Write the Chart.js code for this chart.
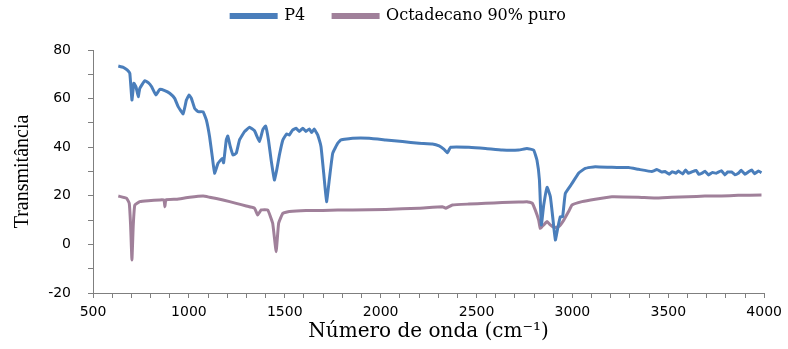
<!DOCTYPE html>
<html>
<head>
<meta charset="utf-8">
<script src="https://cdn.jsdelivr.net/npm/chart.js@4"></script>
<style>
  html, body { margin: 0; padding: 0; background: #fff; }
  #wrap { width: 788px; height: 349px; }
</style>
</head>
<body>
<div id="wrap"><canvas id="ftirChart" width="788" height="349"></canvas></div>
<script>
// P4 spectrum (wavenumber cm-1 / transmittance)
const waveP4 = [632, 658, 678, 692, 703, 713, 724, 736, 744, 770, 788, 805, 828, 848, 874, 900, 926, 944, 970, 987, 1001, 1013, 1030, 1048, 1074, 1091, 1108, 1122, 1134, 1152, 1174, 1181, 1195, 1203, 1216, 1230, 1247, 1264, 1290, 1316, 1342, 1368, 1385, 1400, 1415, 1429, 1446, 1458, 1472,
  1490, 1510, 1524, 1540, 1559, 1575, 1594, 1610, 1628, 1640, 1654, 1665, 1672, 1689, 1703, 1718, 1732, 1750, 1776, 1793, 1854, 1940, 2027, 2114, 2200, 2270, 2305, 2331, 2348, 2365, 2460, 2547, 2634, 2720, 2763, 2798, 2815, 2828, 2838, 2850, 2868, 2885, 2899, 2911, 2925, 2937, 2949, 2963, 2998, 3032, 3067, 3119, 3206, 3292, 3344,
  3414, 3440, 3465, 3483, 3505, 3520, 3540, 3552, 3575, 3590, 3605, 3621, 3645, 3660, 3675, 3691, 3710, 3730, 3750, 3777, 3795, 3810, 3830, 3847, 3865, 3880, 3900, 3917, 3935, 3950, 3970, 3986];
const transP4 = [73.4, 72.9, 71.8, 70.4, 59.4, 66.3, 64.9, 60.8, 64.2, 67.4, 66.6, 65, 61.5, 63.8, 63.3, 62.2, 60.1, 56.7, 53.7, 59.4, 61.5, 60.1, 56, 54.6, 54.6, 51.2, 44.3, 36.1, 29.3, 33.4, 35.4, 33.6, 43, 44.6, 40.2, 36.8, 37.5, 43, 46.4, 48.2, 46.8, 42.3, 47.1, 48.7, 43, 34.7, 26.5, 30.6, 36.8,
  43, 45.5, 45, 47, 47.8, 46.5, 47.8, 46.5, 47.5, 46, 47.5, 46, 45, 40.2, 29.3, 17.6, 26.5, 37.5, 41.6, 43, 43.7, 43.7, 43, 42.3, 41.6, 41.3, 40.5, 39.1, 37.7, 40, 40, 39.5, 38.8, 38.8, 39.5, 38.8, 34.7, 26.5, 8, 16, 23.5, 19.6, 10, 1.8, 7.3, 11.4, 11.4, 21, 25.1, 29.3, 31.3, 32, 31.7, 31.6, 30.9,
  30, 30.8, 29.8, 30, 28.9, 29.9, 29.3, 30.2, 29, 30.6, 29.3, 29.8, 30.4, 28.8, 29.3, 30.1, 28.6, 29.6, 29.3, 30.3, 28.6, 29.8, 29.8, 28.7, 29.3, 30.5, 28.9, 29.8, 30.6, 29.1, 30.2, 29.5];

// Octadecano 90% puro spectrum
const waveOct = [632, 675, 689, 696, 703, 710, 718, 744, 788, 848, 870, 875, 880, 935, 1004, 1074, 1108, 1178, 1247, 1299, 1342, 1359, 1377, 1411, 1437, 1455, 1468, 1490, 1524, 1611, 1698, 1776, 1854, 2027, 2200, 2322, 2340, 2374, 2460, 2547, 2634, 2720, 2763, 2790, 2806, 2824, 2832, 2850, 2868, 2885, 2903, 2929, 2955, 2980, 2998, 3050, 3119, 3206, 3344, 3431, 3518, 3604, 3691, 3777, 3864, 3986];
const transOct = [19.9, 19, 16.9, 8, -6.4, 8, 16.2, 17.6, 18, 18.3, 18.3, 15.5, 18.3, 18.6, 19.4, 19.9, 19.4, 18.3, 16.9, 15.8, 14.9, 12.1, 14.2, 14.2, 8.7, -3, 8.7, 12.8, 13.5, 13.9, 13.9, 14.2, 14.2, 14.4, 14.9, 15.5, 14.9, 16.2, 16.6, 16.9, 17.2, 17.4, 17.6, 17, 14.2, 10, 6.6, 8, 9.4, 8, 7, 7.3, 10, 13.5, 16.2, 17.6, 18.6, 19.6, 19.4, 19.1, 19.4, 19.6, 19.9, 19.9, 20.2, 20.3];

const xTicksMajor = [500, 1000, 1500, 2000, 2500, 3000, 3500, 4000];
const yTicksMajor = [-20, 0, 20, 40, 60, 80];

const blue = '#4a7ebb';
const mauve = '#a0809a';
const axisGray = '#7f7f7f';

function toPoints(xs, ys) {
  return xs.map((x, i) => ({ x: x, y: ys[i] }));
}

// legend sits higher than chart.js would put it: fix its box height
const legendHeight = {
  id: 'legendHeight',
  beforeInit(chart) {
    const fit = chart.legend.fit;
    chart.legend.fit = function () {
      fit.bind(chart.legend)();
      this.height = 70;
    };
  }
};

const ctx = document.getElementById('ftirChart').getContext('2d');
const ftirChart = new Chart(ctx, {
  type: 'line',
  data: {
    datasets: [
      {
        label: 'P4',
        data: toPoints(waveP4, transP4),
        borderColor: blue,
        backgroundColor: blue,
        borderWidth: 3,
        pointRadius: 0,
        tension: 0.1
      },
      {
        label: 'Octadecano 90% puro',
        data: toPoints(waveOct, transOct),
        borderColor: mauve,
        backgroundColor: mauve,
        borderWidth: 3,
        pointRadius: 0,
        tension: 0.1
      }
    ]
  },
  plugins: [legendHeight],
  options: {
    responsive: false,
    animation: false,
    layout: { padding: { left: 9, right: 0, top: -20, bottom: 0 } },
    plugins: {
      tooltip: { enabled: false },
      legend: {
        position: 'top',
        labels: {
          color: '#000',
          font: { family: 'DejaVu Serif', size: 16 },
          boxWidth: 45,
          boxHeight: 3,
          padding: 28
        }
      }
    },
    scales: {
      x: {
        type: 'linear',
        min: 500,
        max: 4000,
        afterFit: s => { s.height = 56; },
        border: { color: axisGray, width: 1 },
        grid: { drawOnChartArea: false, tickLength: 5, color: axisGray },
        ticks: {
          stepSize: 100,
          autoSkip: false,
          maxRotation: 0,
          color: '#000',
          padding: 6,
          font: { family: 'DejaVu Sans', size: 14 },
          callback: v => xTicksMajor.includes(v) ? String(v) : ''
        },
        title: {
          display: true,
          text: 'Número de onda (cm⁻¹)',
          color: '#000',
          font: { family: 'DejaVu Serif', size: 20 },
          padding: { top: 4, bottom: 5 }
        }
      },
      y: {
        min: -20,
        max: 80,
        afterFit: s => { s.width = 84; },
        border: { color: axisGray, width: 1 },
        grid: { drawOnChartArea: false, tickLength: 5, color: axisGray },
        ticks: {
          stepSize: 10,
          autoSkip: false,
          color: '#000',
          padding: 17,
          font: { family: 'DejaVu Sans', size: 14 },
          callback: v => yTicksMajor.includes(v) ? String(v) : ''
        },
        title: {
          display: true,
          text: 'Transmitância',
          color: '#000',
          font: { family: 'Liberation Serif', size: 20 },
          padding: { top: 2, bottom: 0 }
        }
      },
      // empty right-hand axis, only keeps the plot clear of the right edge
      yRight: {
        position: 'right',
        min: -20,
        max: 80,
        afterFit: s => { s.width = 22; },
        border: { display: false },
        grid: { display: false },
        ticks: { display: false }
      }
    }
  }
});
</script>
</body>
</html>
